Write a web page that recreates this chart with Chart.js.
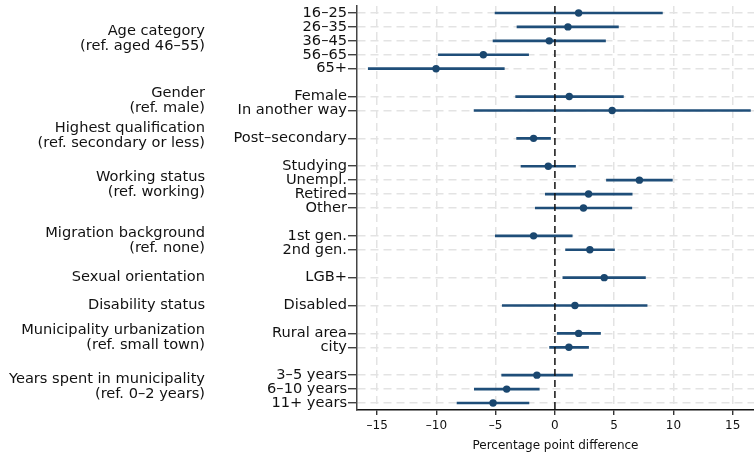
<!DOCTYPE html>
<html>
<head>
<meta charset="utf-8">
<script src="https://cdn.jsdelivr.net/npm/chart.js@4.4.1/dist/chart.umd.min.js"></script>
<style>
  html, body { margin: 0; padding: 0; background: #fff; }
  #wrap { width: 754px; height: 457px; }
</style>
</head>
<body>
<div id="wrap"><canvas id="coefplot" width="754" height="457"></canvas></div>
<script>
// rows of the plot ('' = gap between groups)
const rows = ['16–25', '26–35', '36–45', '56–65', '65+', '',
  'Female', 'In another way', '',
  'Post–secondary', '',
  'Studying', 'Unempl.', 'Retired', 'Other', '',
  '1st gen.', '2nd gen.', '',
  'LGB+', '',
  'Disabled', '',
  'Rural area', 'city', '',
  '3–5 years', '6–10 years', '11+ years'];

// point estimates and 95% CI bounds (percentage points)
const estimates = [2.0, 1.1, -0.48, -6.04, -10.03, null,
  1.21, 4.83, null,
  -1.8, null,
  -0.56, 7.13, 2.84, 2.41, null,
  -1.8, 2.95, null,
  4.16, null,
  1.69, null,
  2.0, 1.18, null,
  -1.52, -4.07, -5.22];
const lower = [-5.05, -3.2, -5.22, -9.83, -15.75, null,
  -3.31, -6.82, null,
  -3.23, null,
  -2.86, 4.35, -0.81, -1.66, null,
  -5.03, 0.9, null,
  0.67, null,
  -4.44, null,
  0.2, -0.45, null,
  -4.49, -6.8, -8.26];
const upper = [9.07, 5.36, 4.27, -2.22, -4.27, null,
  5.78, 16.5, null,
  -0.37, null,
  1.74, 9.91, 6.52, 6.49, null,
  1.46, 5.03, null,
  7.64, null,
  7.78, null,
  3.85, 2.84, null,
  1.49, -1.32, -2.19];

// group headings on the left
const groupTitles = ['Age category', 'Gender', 'Highest qualification', 'Working status',
  'Migration background', 'Sexual orientation', 'Disability status',
  'Municipality urbanization', 'Years spent in municipality'];
const groupRefs = ['(ref. aged 46–55)', '(ref. male)', '(ref. secondary or less)', '(ref. working)',
  '(ref. none)', '', '', '(ref. small town)', '(ref. 0–2 years)'];
const groupFirst = [0, 6, 9, 11, 16, 19, 21, 23, 26];
const groupLast = [4, 7, 9, 14, 17, 19, 21, 24, 28];

const navy = '#1a476f';
const fontFam = '"DejaVu Sans", sans-serif';
Chart.defaults.font.family = fontFam;
Chart.defaults.color = '#111';

// intervals as floating bars
const ciData = rows.map((r, i) => (lower[i] === null ? null : [lower[i], upper[i]]));

const extras = {
  id: 'extras',
  afterDatasetsDraw(chart) {
    const { ctx, chartArea, scales } = chart;
    const x0 = scales.x.getPixelForValue(0);
    ctx.save();
    ctx.strokeStyle = '#111';
    ctx.lineWidth = 1.5;
    ctx.setLineDash([7, 4]);
    ctx.beginPath();
    ctx.moveTo(x0, chartArea.top);
    ctx.lineTo(x0, chartArea.bottom);
    ctx.stroke();
    ctx.restore();
  },
  afterDraw(chart) {
    const { ctx, scales } = chart;
    const y = scales.y;
    ctx.save();
    ctx.font = '14.6px ' + fontFam;
    ctx.fillStyle = '#111';
    ctx.textAlign = 'right';
    ctx.textBaseline = 'middle';
    groupTitles.forEach((t, g) => {
      const yc = (y.getPixelForTick(groupFirst[g]) + y.getPixelForTick(groupLast[g])) / 2;
      if (groupRefs[g]) {
        ctx.fillText(t, 205, yc - 10);
        ctx.fillText(groupRefs[g], 205, yc + 5);
      } else {
        ctx.fillText(t, 205, yc);
      }
    });
    ctx.restore();
  }
};

new Chart(document.getElementById('coefplot'), {
  type: 'bar',
  data: {
    labels: rows,
    datasets: [
      {
        type: 'line',
        indexAxis: 'y',
        data: estimates,
        showLine: false,
        pointRadius: 3.7,
        pointBackgroundColor: navy,
        pointBorderColor: navy,
        pointBorderWidth: 0,
        clip: false,
        order: 0
      },
      {
        type: 'bar',
        indexAxis: 'y',
        data: ciData,
        backgroundColor: '#1f4e79',
        barThickness: 2,
        borderWidth: 0,
        order: 1
      }
    ]
  },
  options: {
    indexAxis: 'y',
    responsive: false,
    animation: false,
    devicePixelRatio: 1,
    layout: { autoPadding: false, padding: { top: 6, right: 0, left: 0, bottom: 0 } },
    plugins: { legend: { display: false }, tooltip: { enabled: false } },
    scales: {
      x: {
        type: 'linear',
        min: -16.7,
        max: 16.8,
        afterFit: s => { s.height = 47; s.paddingLeft = 0; s.paddingRight = 0; },
        ticks: {
          stepSize: 5,
          includeBounds: false,
          padding: 4,
          font: { size: 12 },
          color: '#111',
          callback: v => (v < 0 ? '–' + Math.abs(v) : String(v))
        },
        grid: {
          color: ctx => (ctx.tick && ctx.tick.value === 0 ? 'rgba(0,0,0,0)' : '#e3e3e3'),
          lineWidth: 1.5,
          tickLength: 5,
          tickColor: '#111',
          tickWidth: 1.2,
          tickBorderDash: []
        },
        border: { display: true, color: '#111', width: 1.5, dash: [8, 5] },
        title: {
          display: true,
          text: 'Percentage point difference',
          font: { size: 12 },
          color: '#111',
          padding: { top: 4, bottom: 4 }
        }
      },
      y: {
        type: 'category',
        offset: true,
        afterFit: s => { s.width = 357; s.paddingTop = 0; s.paddingBottom = 0; },
        ticks: {
          autoSkip: false,
          padding: 1,
          font: { size: 14.6, lineHeight: 1 },
          color: '#111'
        },
        grid: {
          offset: false,
          color: ctx => (rows[ctx.index] ? '#e3e3e3' : 'rgba(0,0,0,0)'),
          lineWidth: 1.5,
          tickLength: 9,
          tickColor: ctx => (rows[ctx.index] ? '#222' : 'rgba(0,0,0,0)'),
          tickWidth: 1.2,
          tickBorderDash: []
        },
        border: { display: true, color: '#444', width: 1.5, dash: [8, 5] }
      }
    }
  },
  plugins: [extras]
});
</script>
</body>
</html>
